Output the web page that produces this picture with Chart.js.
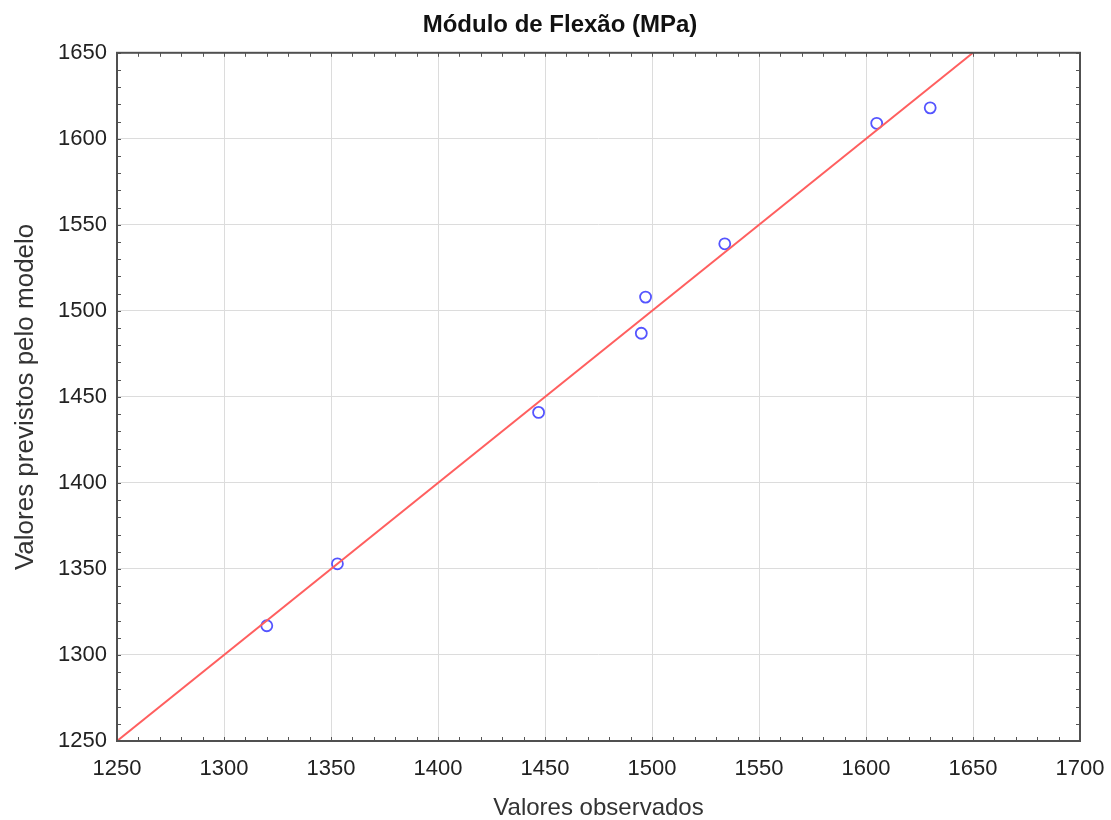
<!DOCTYPE html>
<html>
<head>
<meta charset="utf-8">
<script src="https://cdn.jsdelivr.net/npm/chart.js@4/dist/chart.umd.min.js"></script>
<style>
  body { margin: 0; background: #fff; }
  #wrap { width: 1111px; height: 820px; }
</style>
</head>
<body>
<div id="wrap"><canvas id="grafico" width="1111" height="820"></canvas></div>
<script>
// valores
let observados = [1320, 1353, 1447, 1495, 1497, 1534, 1605, 1630];
let previstos  = [1317, 1353, 1441, 1487, 1508, 1539, 1609, 1618];
let linhaX = [1250, 1650];
let linhaY = [1250, 1650];
let eixoMin = 1250, xMax = 1700, yMax = 1650;
let passoMaior = 50, passoMenor = 10;

let pontos = [];
for (let i = 0; i < observados.length; i++) {
    pontos.push({x: observados[i], y: previstos[i]});
}
let linha = [];
for (let i = 0; i < linhaX.length; i++) {
    linha.push({x: linhaX[i], y: linhaY[i]});
}

let fonte = 'Liberation Sans, Arial, sans-serif';

// moldura e marcas menores para dentro
const moldura = {
    id: 'moldura',
    beforeDraw(chart) {
        // titulo um pouco a direita, como no original
        if (chart.titleBlock) chart.titleBlock.left += 40;
    },
    afterDraw(chart) {
        const ctx = chart.ctx;
        const a = chart.chartArea;
        const sx = chart.scales.x, sy = chart.scales.y;
        ctx.save();
        ctx.strokeStyle = '#555';
        ctx.lineWidth = 1;
        ctx.beginPath();
        for (let v = sx.min; v <= sx.max; v += passoMenor) {
            let px = Math.round(sx.getPixelForValue(v)) + 0.5;
            ctx.moveTo(px, a.bottom); ctx.lineTo(px, a.bottom - 4);
            ctx.moveTo(px, a.top); ctx.lineTo(px, a.top + 4);
        }
        for (let v = sy.min; v <= sy.max; v += passoMenor) {
            let py = Math.round(sy.getPixelForValue(v)) + 0.5;
            ctx.moveTo(a.left, py); ctx.lineTo(a.left + 4, py);
            ctx.moveTo(a.right, py); ctx.lineTo(a.right - 4, py);
        }
        ctx.stroke();
        ctx.lineWidth = 2;
        ctx.strokeStyle = '#505050';
        ctx.strokeRect(a.left, a.top, a.right - a.left, a.bottom - a.top);
        ctx.restore();
    }
};

const ctx = document.getElementById('grafico').getContext('2d');
const grafico = new Chart(ctx, {
    type: 'scatter',
    data: {
        datasets: [{
            type: 'line',
            data: linha,
            borderColor: 'rgb(255,95,95)',
            borderWidth: 2,
            pointRadius: 0,
            fill: false
        }, {
            data: pontos,
            backgroundColor: 'rgba(0,0,0,0)',
            borderColor: 'rgb(85,85,255)',
            borderWidth: 1.8,
            pointRadius: 5.5,
            pointHoverRadius: 5.5
        }]
    },
    options: {
        responsive: false,
        animation: false,
        layout: { padding: { top: 0, right: 31, bottom: 0, left: 0 } },
        plugins: {
            legend: { display: false },
            tooltip: { enabled: false },
            title: {
                display: true,
                text: 'Módulo de Flexão (MPa)',
                color: '#111',
                font: { family: fonte, size: 24, weight: 'bold' },
                padding: { top: 11, bottom: 13 }
            }
        },
        scales: {
            x: {
                type: 'linear',
                min: eixoMin, max: xMax,
                ticks: {
                    stepSize: passoMaior,
                    color: '#222',
                    padding: 15,
                    font: { family: fonte, size: 22 },
                    callback: (v) => String(v)
                },
                grid: { color: '#dcdcdc', drawTicks: false },
                border: { display: false },
                title: {
                    display: true,
                    text: 'Valores observados',
                    color: '#333',
                    font: { family: fonte, size: 24, lineHeight: 1 },
                    padding: { top: 0, bottom: 0 }
                },
                afterFit(scale) {
                    scale.height = 79;
                    scale.paddingLeft = 0;
                    scale.paddingRight = 0;
                }
            },
            y: {
                type: 'linear',
                min: eixoMin, max: yMax,
                ticks: {
                    stepSize: passoMaior,
                    color: '#222',
                    padding: 10,
                    font: { family: fonte, size: 22 },
                    callback: (v) => String(v)
                },
                grid: { color: '#dcdcdc', drawTicks: false },
                border: { display: false },
                title: {
                    display: true,
                    text: 'Valores previstos pelo modelo',
                    color: '#333',
                    font: { family: fonte, size: 26 },
                    padding: { top: 10, bottom: 0 }
                },
                afterFit(scale) {
                    scale.width = 117;
                    scale.paddingTop = 0;
                    scale.paddingBottom = 0;
                }
            }
        }
    },
    plugins: [moldura]
});
</script>
</body>
</html>
